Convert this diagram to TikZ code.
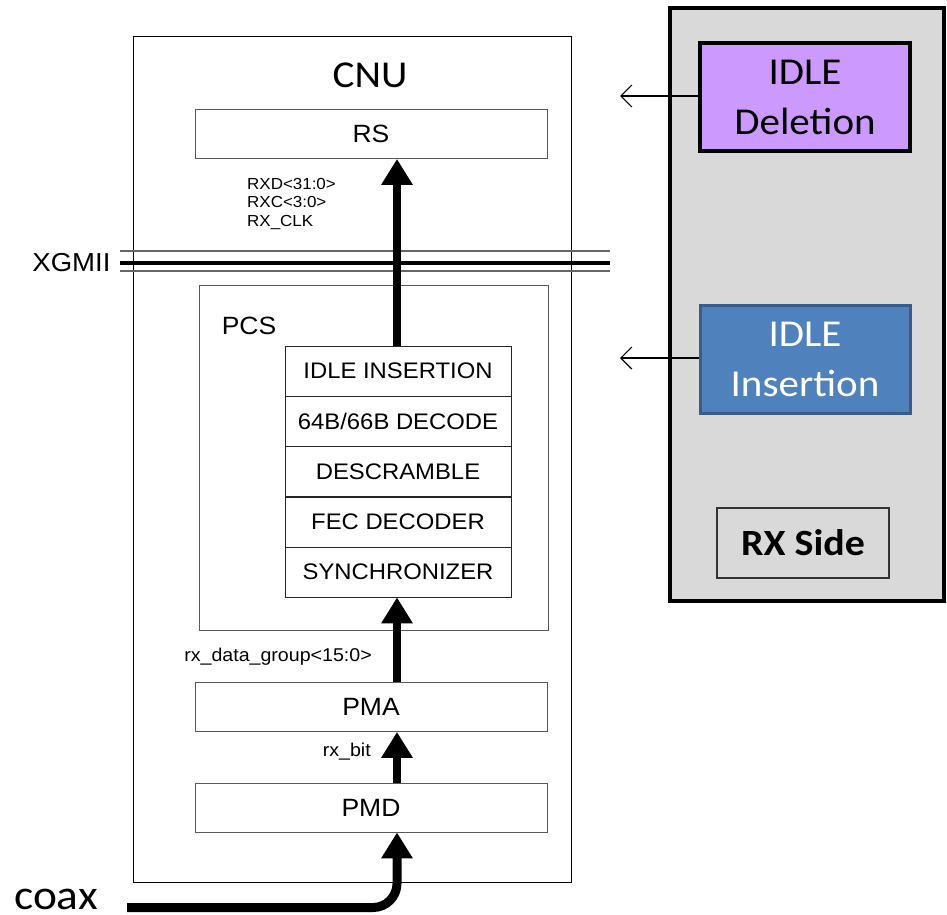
\documentclass[tikz,border=0pt]{standalone}
\usepackage{fontspec}
\setmainfont{Liberation Sans}[FakeStretch=1.06]
\newfontfamily\calib{Carlito}[FakeStretch=1.08]
\usetikzlibrary{arrows.meta}
\definecolor{panelgray}{HTML}{D9D9D9}
\definecolor{delpurple}{HTML}{CC99FF}
\definecolor{insblue}{HTML}{4F81BD}
\definecolor{insedge}{HTML}{385D8A}

\begin{document}
\begin{tikzpicture}[x=1pt,y=-1pt,
    blk/.style={draw=black!65,line width=0.9pt,minimum width=352pt,minimum height=49pt,inner sep=0pt,font=\fontsize{25}{28}\selectfont},
    layer/.style={draw=black!85,line width=0.9pt,minimum width=226pt,minimum height=50pt,inner sep=0pt,font=\fontsize{22.5}{25}\selectfont},
    bus/.style={line width=8pt,-{Triangle[width=30pt,length=26pt]}},
    sig/.style={font=\fontsize{18.5}{20}\selectfont,align=left,anchor=east,inner sep=0pt},
    rxbox/.style={line width=4pt,minimum width=210pt,minimum height=108pt,align=center,font=\calib\fontsize{38}{50}\selectfont},
    hint/.style={line width=1.2pt,{Straight Barb[length=11pt,width=22pt]}-}
  ]
  \useasboundingbox (0,0) rectangle (947,914);
  % Boite CNU et ses couches
  \node[draw,line width=0.9pt,minimum width=438pt,minimum height=846pt] (cnu) at (352,459) {};
  \node[font=\calib\fontsize{38}{40}\selectfont] (cnulbl) at (370,75) {CNU};
  \node[blk] (rs) at (371,134) {RS};
  \node[blk] (pma) at (371,707) {PMA};
  \node[blk] (pmd) at (371,807.5) {PMD};
  % Interface XGMII
  \draw[black!60,line width=1.2pt] (120,251) -- (610,251);
  \draw[black!60,line width=1.2pt] (120,271) -- (610,271);
  \draw[line width=4pt] (120,263) coordinate (xgl) -- (610,263) coordinate (xgr);
  \node[font=\fontsize{26}{28}\selectfont,anchor=east] (xgmii) at (114,263) {XGMII};
  % Sous-couche PCS
  \node[draw=black!65,line width=0.9pt,minimum width=349pt,minimum height=345pt] (pcs) at (373.5,457.5) {};
  \node[font=\fontsize{25}{28}\selectfont] (pcslbl) at (249,326) {PCS};
  \node[layer] (idle) at (398,371) {IDLE INSERTION};
  \node[layer] (dec) at (398,421) {64B/66B DECODE};
  \node[layer] (desc) at (398,471.5) {DESCRAMBLE};
  \node[layer] (fec) at (398,522) {FEC DECODER};
  \node[layer] (sync) at (398,572) {SYNCHRONIZER};
  % Bus de donnees
  \draw[bus] (idle.north -| 397,0) -- (rs.south -| 397,0);
  \draw[bus] (pma.north -| 397,0) -- (sync.south -| 397,0);
  \draw[bus] (pmd.north -| 397,0) -- (pma.south -| 397,0);
  \coordinate (coax) at (127,907.5);
  \draw[bus,line width=9pt,rounded corners=24pt] (coax) -- (397,907.5) -- (pmd.south -| 397,0);
  \node[font=\calib\fontsize{42}{44}\selectfont,anchor=base west,inner sep=0pt] (coaxlbl) at (14,909) {coax};
  % Signaux
  \node[sig,font=\fontsize{16}{18.5}\selectfont,anchor=west] (rxd) at (247,203.5) {RXD<31:0>\\RXC<3:0>\\RX\_CLK};
  \node[sig] (rxdg) at (372,657) {rx\_data\_group<15:0>};
  \node[sig] (rxbit) at (371,752) {rx\_bit};
  % Panneau RX
  \node[draw,line width=4pt,fill=panelgray,minimum width=274pt,minimum height=593pt] (panel) at (807,304.5) {};
  \node[rxbox,draw=black,fill=delpurple] (del) at (805,97) {IDLE\\Deletion};
  \node[rxbox,draw=insedge,line width=3pt,fill=insblue,text=white] (ins) at (805,359.5) {IDLE\\Insertion};
  \node[draw=black!80,line width=1.2pt,fill=panelgray,minimum width=172pt,minimum height=70pt,font=\calib\bfseries\fontsize{37}{38}\selectfont] (side) at (803,543) {RX Side};
  \coordinate (deltip) at (620,96);
  \coordinate (instip) at (620,358);
  \draw[hint] (deltip) -- (del.west |- deltip);
  \draw[hint] (instip) -- (ins.west |- instip);
\end{tikzpicture}
\end{document}
